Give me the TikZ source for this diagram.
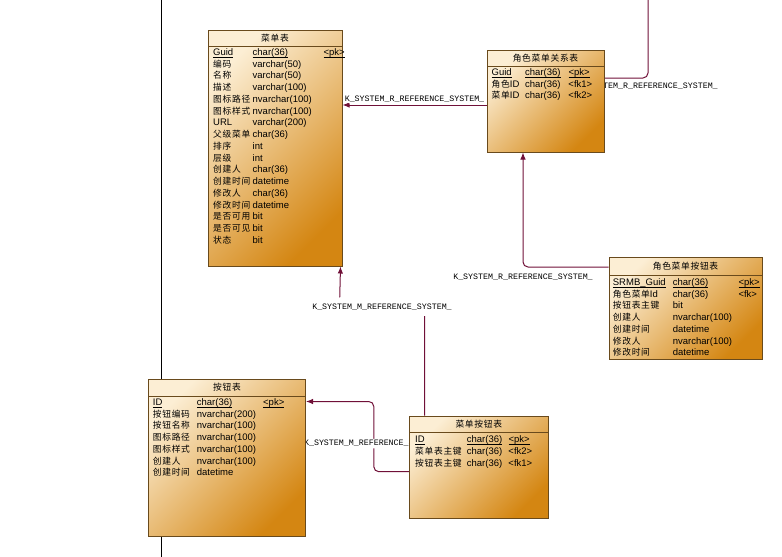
\documentclass[tikz,border=0pt]{standalone}
\usepackage{fontspec}
\setmainfont{Liberation Sans}
\newfontfamily\zhfont[Scale=0.92,LetterSpace=8]{Noto Sans CJK SC}
\newfontfamily\lblfont{Liberation Mono}
\newcommand\zh[1]{{\zhfont #1}}
\newcommand\pkey[1]{\underline{\smash{#1}}}
\usepackage{array}
\usepackage{tikz}
\usetikzlibrary{arrows.meta,positioning,calc}
\pgfdeclarelayer{bg}
\pgfsetlayers{bg,main}
\definecolor{tbllight}{RGB}{252,238,212}
\definecolor{tbldark}{RGB}{212,134,18}
\definecolor{tblline}{RGB}{105,74,28}
\definecolor{fkline}{RGB}{112,16,56}

\begin{document}
\begin{tikzpicture}[
            x=1pt, y=-1pt,
            tbl/.style={draw=tblline, line width=1pt, top color=tbllight, bottom color=tbldark, shading angle=45, inner sep=0pt},
            hd/.style={draw=tblline, line width=1pt, inner sep=0pt, anchor=north, font=\fontsize{9.5}{11}\selectfont},
            body/.style={anchor=north west, inner sep=0pt, font=\fontsize{9.5}{11.75}\selectfont},
            fk/.style={draw=fkline, line width=1pt, rounded corners=5pt},
            arr/.style={-{Latex[length=7pt,width=5.5pt]}},
            lbl/.style={font=\lblfont\fontsize{8.3}{9}\selectfont, fill=white, inner xsep=0pt, inner ysep=1.5pt},
        ]
            \useasboundingbox (0,0) rectangle (782,557);

            % 菜单表
            \node[tbl, minimum width=134pt, minimum height=236pt] (cdb) at (275,148) {};
            \node[hd, minimum width=134pt, minimum height=16pt] (cdb-h) at (cdb.north) {\zh{菜单表}};
            \node[body] (cdb-b) at (213,47) {\begin{tabular}{@{}p{39.5pt}@{}p{70.8pt}@{}l@{}}
                \pkey{Guid} & \pkey{char(36)} & \pkey{<pk>}\\
                \zh{编码} & varchar(50) & \\
                \zh{名称} & varchar(50) & \\
                \zh{描述} & varchar(100) & \\
                \zh{图标路径} & nvarchar(100) & \\
                \zh{图标样式} & nvarchar(100) & \\
                URL & varchar(200) & \\
                \zh{父级菜单} & char(36) & \\
                \zh{排序} & int & \\
                \zh{层级} & int & \\
                \zh{创建人} & char(36) & \\
                \zh{创建时间} & datetime & \\
                \zh{修改人} & char(36) & \\
                \zh{修改时间} & datetime & \\
                \zh{是否可用} & bit & \\
                \zh{是否可见} & bit & \\
                \zh{状态} & bit &
            \end{tabular}};

            % 角色菜单关系表
            \node[tbl, minimum width=117pt, minimum height=102pt] (rel) at (545.5,101) {};
            \node[hd, minimum width=117pt, minimum height=16pt] (rel-h) at (rel.north) {\zh{角色菜单关系表}};
            \node[body] (rel-b) at (491.5,67) {\begin{tabular}{@{}p{33.5pt}@{}p{43.3pt}@{}l@{}}
                \pkey{Guid} & \pkey{char(36)} & \pkey{<pk>}\\
                \zh{角色}ID & char(36) & <fk1>\\
                \zh{菜单}ID & char(36) & <fk2>
            \end{tabular}};

            % 角色菜单按钮表
            \node[tbl, minimum width=153pt, minimum height=102pt] (smb) at (685.5,308) {};
            \node[hd, minimum width=153pt, minimum height=18pt] (smb-h) at (smb.north) {\zh{角色菜单按钮表}};
            \node[body] (smb-b) at (612.7,277) {\begin{tabular}{@{}p{60pt}@{}p{65.6pt}@{}l@{}}
                \pkey{SRMB\_Guid} & \pkey{char(36)} & \pkey{<pk>}\\
                \zh{角色菜单}Id & char(36) & <fk>\\
                \zh{按钮表主键} & bit & \\
                \zh{创建人} & nvarchar(100) & \\
                \zh{创建时间} & datetime & \\
                \zh{修改人} & nvarchar(100) & \\
                \zh{修改时间} & datetime &
            \end{tabular}};

            % 按钮表
            \node[tbl, minimum width=157pt, minimum height=157pt] (anx) at (227,457.5) {};
            \node[hd, minimum width=157pt, minimum height=17pt] (anx-h) at (anx.north) {\zh{按钮表}};
            \node[body] (anx-b) at (152.7,397) {\begin{tabular}{@{}p{44pt}@{}p{66.3pt}@{}l@{}}
                \pkey{ID} & \pkey{char(36)} & \pkey{<pk>}\\
                \zh{按钮编码} & nvarchar(200) & \\
                \zh{按钮名称} & nvarchar(100) & \\
                \zh{图标路径} & nvarchar(100) & \\
                \zh{图标样式} & nvarchar(100) & \\
                \zh{创建人} & nvarchar(100) & \\
                \zh{创建时间} & datetime &
            \end{tabular}};

            % 菜单按钮表
            \node[tbl, minimum width=139pt, minimum height=102pt] (cda) at (478.8,467.2) {};
            \node[hd, minimum width=139pt, minimum height=16pt] (cda-h) at (cda.north) {\zh{菜单按钮表}};
            \node[body] (cda-b) at (415,434.4) {\begin{tabular}{@{}p{51.7pt}@{}p{41.6pt}@{}l@{}}
                \pkey{ID} & \pkey{char(36)} & \pkey{<pk>}\\
                \zh{菜单表主键} & char(36) & <fk2>\\
                \zh{按钮表主键} & char(36) & <fk1>
            \end{tabular}};

            \begin{pgfonlayer}{bg}
                \coordinate (vtop) at (161,0);
                \coordinate (vbot) at (161,557);
                \draw[line width=1pt] (vtop) -- (vbot);

                \coordinate (upend) at (648,0);
                \draw[fk] (upend) |- node[lbl, pos=0.5, below=3pt] {K\_SYSTEM\_R\_REFERENCE\_SYSTEM\_} ([yshift=23pt]rel.east);
                \draw[fk, arr] ([yshift=-4pt]rel.west) -- node[lbl, above=1pt] {K\_SYSTEM\_R\_REFERENCE\_SYSTEM\_} ([yshift=-4pt]cdb.east |- rel.west);
                \draw[fk, arr] ([yshift=41pt]smb.west) -| node[lbl, pos=0.5, below=4.5pt] {K\_SYSTEM\_R\_REFERENCE\_SYSTEM\_} ([xshift=-22.5pt]rel.south);
                \draw[fk, arr] ([xshift=15.7pt]cda.north west) -- ++(0,-109) -- ++(-85,0) node[lbl, midway, inner ysep=6pt] {K\_SYSTEM\_M\_REFERENCE\_SYSTEM\_} -- ([xshift=-2pt]cdb.south east);
                \draw[fk, arr] ([yshift=-4.5pt]cda.west) -- ++(-35,0) |- node[lbl, pos=0.2] {K\_SYSTEM\_M\_REFERENCE\_SYSTEM\_} ([yshift=56pt]anx.east);
            \end{pgfonlayer}
        \end{tikzpicture}
\end{document}
